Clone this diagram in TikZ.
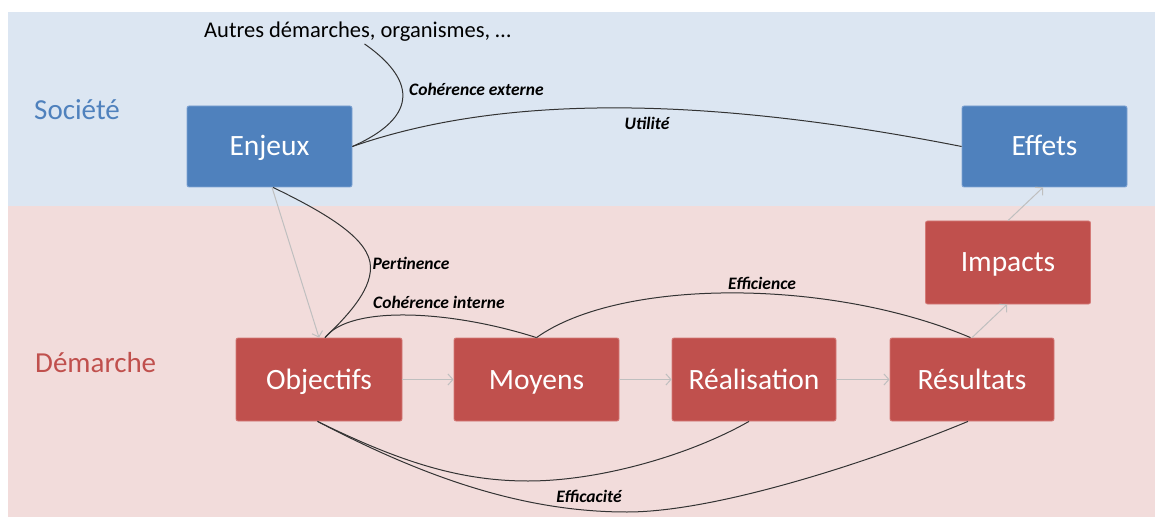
\documentclass[tikz,border=0pt]{standalone}
\usepackage{fontspec}
\setmainfont{Carlito}
\usetikzlibrary{arrows.meta}
\definecolor{bandblue}{HTML}{DCE6F2}
\definecolor{bandpink}{HTML}{F2DCDB}
\definecolor{boxblue}{HTML}{4F81BD}
\definecolor{boxred}{HTML}{C0504D}
\definecolor{edgeblue}{HTML}{7FA3D3}
\definecolor{edgered}{HTML}{D47A77}
\definecolor{flowgray}{HTML}{BFBFBF}
\tikzset{
  boxbase/.style={rectangle, line width=0.8pt, rounded corners=2pt, inner sep=0pt, text=white,
    font=\fontsize{29.5}{32}\selectfont, text height=19pt, text depth=0pt},
  bluebox/.style={boxbase, fill=boxblue, draw=edgeblue, minimum width=165pt, minimum height=81pt},
  redbox/.style={boxbase, fill=boxred, draw=edgered, minimum width=165pt, minimum height=83pt},
  relation/.style={draw=black!80, line width=1pt},
  flow/.style={draw=flowgray, line width=1pt, -{Straight Barb[length=5pt,width=11pt]}},
  critlabel/.style={font=\fontsize{17.5}{20}\selectfont\bfseries\itshape, inner sep=0pt},
  zonelabel/.style={font=\fontsize{29}{32}\selectfont, inner sep=0pt, anchor=west}
}
\begin{document}
\begin{tikzpicture}[x=1pt,y=-1pt]
\useasboundingbox (0,0) rectangle (1155,518);
\fill[bandblue] (8,12) rectangle (1155,206.5);
\fill[bandpink] (8,206.5) rectangle (1155,517);

\node[zonelabel, text=boxblue] (societe) at (34,110) {Société};
\node[zonelabel, text=boxred] (demarche) at (35,363) {Démarche};
\node[font=\fontsize{22.5}{26}\selectfont, inner sep=0pt] (autres) at (357.5,32) {Autres démarches, organismes, …};

\node[bluebox] (enjeux) at (269.5,146.5) {Enjeux};
\node[bluebox] (effets) at (1044.5,146.5) {Effets};
\node[redbox, minimum width=166pt] (objectifs) at (319,379.5) {Objectifs};
\node[redbox] (moyens) at (536.5,379.5) {Moyens};
\node[redbox, minimum width=164pt] (realisation) at (754,379.5) {Réalisation};
\node[redbox, minimum width=164pt] (resultats) at (972,379.5) {Résultats};
\node[redbox] (impacts) at (1008,262.5) {Impacts};

% flows
\draw[flow] ([xshift=2.5pt]enjeux.south) -- (objectifs.north);
\draw[flow] (objectifs.east) -- (moyens.west);
\draw[flow] (moyens.east) -- (realisation.west);
\draw[flow] (realisation.east) -- (resultats.west);
\draw[flow] (resultats.north) -- ([xshift=-1pt]impacts.south);
\draw[flow] (impacts.north) -- ([xshift=-1.5pt]effets.south);

% relations
\draw[relation] ([xshift=7pt,yshift=-2pt]autres.south) .. controls (405,72) and (430,112) .. (enjeux.east);
\draw[relation] (enjeux.east) .. controls (500,95) and (700,95) .. (effets.west);
\draw[relation] ([xshift=3.5pt]enjeux.south) .. controls (330,215) and (370,240) .. (370.5,267)
  .. controls (371,292) and (345,318) .. ([xshift=6pt]objectifs.north);
\draw[relation] ([xshift=6pt]objectifs.north) .. controls (350,305) and (450,310) .. (moyens.north);
\draw[relation] (moyens.north) .. controls (620,278) and (830,278) .. ([xshift=-1.5pt]resultats.north);
\draw[relation] ([xshift=-1.5pt]objectifs.south) .. controls (400,462) and (460,481) .. (528,481)
  .. controls (600,481) and (690,455) .. ([xshift=-5pt]realisation.south);
\draw[relation] ([xshift=-1.5pt]objectifs.south) .. controls (420,475) and (520,512) .. (627,512)
  .. controls (720,512) and (880,458) .. ([xshift=-4pt]resultats.south);

% criteria labels
\node[critlabel, anchor=west] (lcohext) at (409,89) {Cohérence externe};
\node[critlabel] (lutil) at (647,123) {Utilité};
\node[critlabel] (lpert) at (411,263) {Pertinence};
\node[critlabel] (lcohint) at (439,302) {Cohérence interne};
\node[critlabel] (leffic) at (762,283) {Efficience};
\node[critlabel] (leffca) at (589,496) {Efficacité};
\end{tikzpicture}
\end{document}
